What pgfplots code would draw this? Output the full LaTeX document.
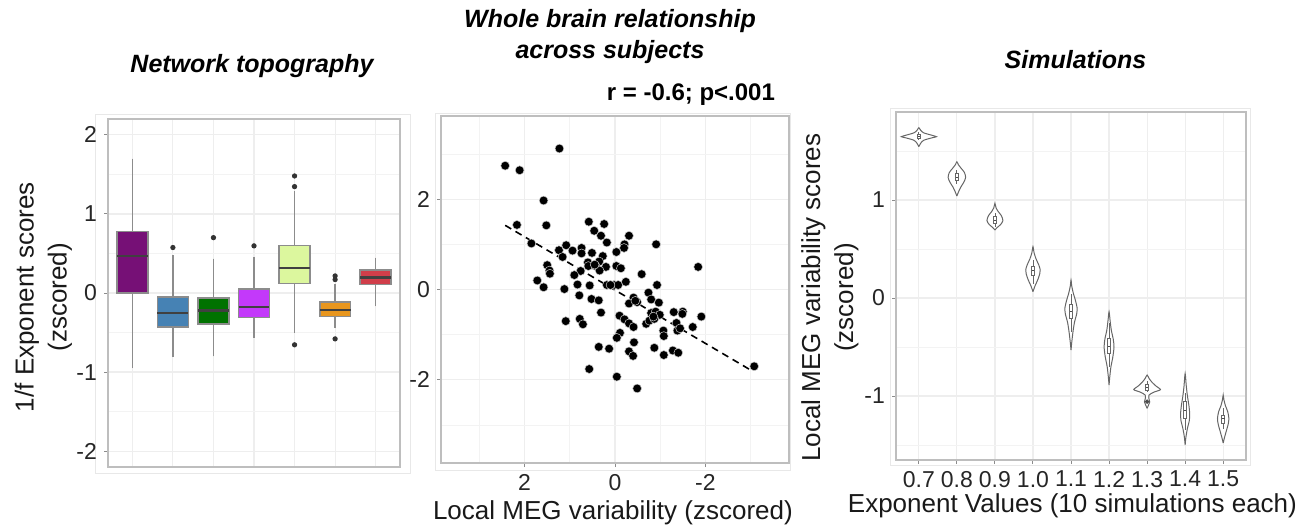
\documentclass[border=0pt]{standalone}
\usepackage{pgfplots}
\pgfplotsset{compat=1.18}
\usepgfplotslibrary{statistics}
\usepackage{fontspec}
\setmainfont{Liberation Sans}
\definecolor{c1}{RGB}{118,16,118}
\definecolor{c2}{RGB}{70,130,180}
\definecolor{c3}{RGB}{0,114,0}
\definecolor{c4}{RGB}{195,57,250}
\definecolor{c5}{RGB}{220,247,158}
\definecolor{c6}{RGB}{232,150,30}
\definecolor{c7}{RGB}{208,62,74}
\definecolor{gridc}{RGB}{238,238,238}
\definecolor{framec}{RGB}{190,190,190}
\definecolor{outerc}{RGB}{232,232,232}
\pgfplotsset{
  gg/.style={
    scale only axis, anchor=north west,
    axis line style={framec, line width=0.6pt},
    tick style={color=black!45, line width=0.5pt},
    major tick length=2pt, minor tick length=0pt, tick align=outside,
    xtick pos=bottom, ytick pos=left,
    grid=both,
    major grid style={gridc, line width=0.6pt},
    minor grid style={gridc!70, line width=0.4pt},
    tick label style={font=\fontsize{11.5}{13}\selectfont, text=black!85},
    label style={font=\fontsize{13}{16.5}\selectfont, text=black!90},
    /pgf/number format/assume math mode=true,
    boxplot/draw direction=y,
    clip=false,
  },
  bx/.style={draw=black!45, line width=0.8pt,
    boxplot/whisker extend=0,
    boxplot/every median/.style={draw=black!75, line width=1.1pt}},
  vio/.style={draw=black!60, fill=white, line width=0.5pt, smooth, tension=0.45},
  ibx/.style={draw=black!60, fill=white, line width=0.4pt,
    boxplot/whisker extend=0,
    boxplot/every median/.style={draw=black!70, line width=0.5pt}},
}
\begin{document}
\begin{tikzpicture}
\path[use as bounding box] (0,0) rectangle (654.5pt,-265.5pt);
% light outer frames (plot backgrounds)
\draw[outerc, line width=0.5pt] (47.5pt,-57pt) rectangle (205pt,-236.5pt);
\draw[outerc, line width=0.5pt] (217.5pt,-56.5pt) rectangle (395pt,-235pt);
\draw[outerc, line width=0.5pt] (445pt,-54pt) rectangle (625pt,-232.5pt);

% ---------------- Panel 1: boxplots ----------------
\begin{axis}[gg, at={(54pt,-59.5pt)}, width=146pt, height=174pt,
  xmin=0.4, xmax=7.6, ymin=-2.2, ymax=2.2,
  xtick={1,2,3,4,5,6,7}, xticklabels={}, xtick style={draw=none},
  ytick={-2,-1,0,1,2}, minor ytick={-1.5,-0.5,0.5,1.5},
  ylabel={1/f Exponent scores\\(zscored)},
  ylabel style={align=center, at={(axis description cs:-0.221,0.488)}, anchor=center},
]
\addplot[bx, fill=c1, boxplot prepared={draw position=1, box extend=0.76,
  lower whisker=-0.95, lower quartile=0.0, median=0.465, upper quartile=0.78, upper whisker=1.70}] coordinates {};
\addplot[bx, fill=c2, boxplot prepared={draw position=2, box extend=0.76,
  lower whisker=-0.81, lower quartile=-0.43, median=-0.25, upper quartile=-0.05, upper whisker=0.48}] coordinates {};
\addplot[bx, fill=c3, boxplot prepared={draw position=3, box extend=0.76,
  lower whisker=-0.80, lower quartile=-0.39, median=-0.22, upper quartile=-0.063, upper whisker=0.435}] coordinates {};
\addplot[bx, fill=c4, boxplot prepared={draw position=4, box extend=0.76,
  lower whisker=-0.567, lower quartile=-0.31, median=-0.18, upper quartile=0.047, upper whisker=0.457}] coordinates {};
\addplot[bx, fill=c5, boxplot prepared={draw position=5, box extend=0.76,
  lower whisker=-0.503, lower quartile=0.118, median=0.313, upper quartile=0.60, upper whisker=1.29}] coordinates {};
\addplot[bx, fill=c6, boxplot prepared={draw position=6, box extend=0.76,
  lower whisker=-0.448, lower quartile=-0.296, median=-0.216, upper quartile=-0.114, upper whisker=0.118}] coordinates {};
\addplot[bx, fill=c7, boxplot prepared={draw position=7, box extend=0.76,
  lower whisker=-0.17, lower quartile=0.106, median=0.195, upper quartile=0.288, upper whisker=0.448}] coordinates {};
\addplot[only marks, mark=*, mark size=1.1pt, black!80] coordinates {
  (2,0.575) (3,0.70) (4,0.596) (5,1.48) (5,1.345) (5,-0.655)
  (6,0.216) (6,0.17) (6,-0.58)};
\end{axis}
\node[font=\bfseries\itshape\fontsize{12.5}{15}\selectfont] at (126pt,-33pt) {Network topography};

% ---------------- Panel 2: scatter ----------------
\begin{axis}[gg, at={(220.5pt,-58pt)}, width=174pt, height=173.5pt,
  xmin=-3.85, xmax=3.85, x dir=reverse, ymin=-3.84, ymax=3.84,
  xtick={-2,0,2}, ytick={-2,0,2},
  minor xtick={-3,-1,1,3}, minor ytick={-3,-1,1,3},
  xlabel={Local MEG variability (zscored)},
  xlabel style={at={(axis description cs:0.494,-0.144)}, anchor=center},
]
\addplot[only marks, mark=*, mark size=2.2pt, mark options={fill=black, draw=black!20, line width=0.25pt}] coordinates {
(2.43,2.74) (2.11,2.64) (1.23,3.12) (1.58,1.97) (2.17,1.43) (1.52,1.42) (1.85,1.02)
(0.58,1.50) (0.24,1.45) (0.46,1.30) (0.31,1.19) (0.18,1.04) (-0.31,1.19) (-0.21,1.00)
(-0.20,0.92) (-0.91,1.00) (1.24,0.87) (1.08,0.98) (0.94,0.86) (0.74,0.92) (0.74,0.80)
(0.51,0.81) (1.16,0.72) (0.27,0.74) (-0.03,0.83) (1.50,0.54) (1.45,0.42) (1.44,0.35)
(0.60,0.60) (0.59,0.52) (0.35,0.62) (0.43,0.52) (0.20,0.50) (0.34,0.42) (-0.03,0.52)
(-0.13,0.47) (0.76,0.41) (0.90,0.32) (-0.59,0.34) (-1.84,0.50) (1.72,0.20) (1.58,0.05)
(1.12,0.01) (0.83,0.11) (0.56,0.09) (0.18,0.10) (0.02,0.10) (-0.07,0.10) (-0.24,0.17)
(-0.93,0.10) (0.79,-0.13) (0.52,-0.21) (0.36,-0.24) (-0.74,-0.07) (-0.41,-0.18)
(-0.31,-0.31) (-0.49,-0.28) (-0.80,-0.22) (-0.97,-0.29) (0.31,-0.51) (-0.80,-0.52)
(-0.90,-0.49) (-0.99,-0.56) (-1.30,-0.50) (-1.50,-0.49) (-1.49,-0.54) (-0.10,-0.58)
(-0.21,-0.66) (-0.31,-0.75) (-0.41,-0.83) (-0.69,-0.76) (-0.76,-0.69) (-0.87,-0.65)
(-1.36,-0.74) (-1.38,-0.91) (-1.72,-0.83) (-1.91,-0.60) (-1.44,-0.86) (1.09,-0.70)
(0.78,-0.65) (0.71,-0.77) (-1.07,-0.91) (-1.08,-1.03) (-0.11,-0.96) (-0.04,-1.07)
(-0.42,-1.17) (0.36,-1.27) (0.13,-1.31) (-0.31,-1.37) (-0.40,-1.47) (-0.87,-1.29)
(-1.08,-1.45) (-1.28,-1.35) (-1.40,-1.40) (0.57,-1.76) (-0.04,-1.93) (-0.49,-2.19)
(-3.08,-1.70) (0.45,0.55) (-0.45,-0.25) (-0.85,-0.60) (0.10,0.10)
};
\addplot[black, line width=0.8pt, dash pattern=on 3.5pt off 2.5pt] coordinates {(2.43,1.42) (-2.98,-1.77)};
\end{axis}
\node[font=\bfseries\itshape\fontsize{12.5}{15}\selectfont, align=center] at (305pt,-18.5pt) {Whole brain relationship\\[0.5pt]across subjects};
\node[font=\bfseries\fontsize{12}{14}\selectfont, anchor=east] at (391pt,-47.5pt) {r = -0.6; p<.001};

% ---------------- Panel 3: violins ----------------
\begin{axis}[gg, at={(448pt,-56pt)}, width=175pt, height=174pt,
  xmin=0.4, xmax=9.6, ymin=-1.653, ymax=1.898,
  xtick={1,...,9}, xticklabels={0.7,0.8,0.9,1.0,1.1,1.2,1.3,1.4,1.5},
  ytick={-1,0,1}, minor ytick={-1.5,-0.5,0.5,1.5},
  ylabel={Local MEG variability scores\\(zscored)},
  ylabel style={align=center, at={(axis description cs:-0.189,0.467)}, anchor=center},
  xlabel={Exponent Values (10 simulations each)},
  xlabel style={at={(axis description cs:0.504,-0.132)}, anchor=center},
]
\addplot[vio] coordinates {(1,1.544) (1.05,1.58) (1.13,1.61) (1.35,1.635) (1.46,1.646) (1.35,1.66) (1.13,1.685) (1.05,1.71) (1,1.738)
  (0.95,1.71) (0.87,1.685) (0.65,1.66) (0.54,1.646) (0.65,1.635) (0.87,1.61) (0.95,1.58) (1,1.544)};
\addplot[vio] coordinates {(2,1.04) (2.04,1.08) (2.10,1.13) (2.18,1.18) (2.23,1.23) (2.20,1.28) (2.12,1.32) (2.04,1.36) (2,1.39)
  (1.96,1.36) (1.88,1.32) (1.80,1.28) (1.77,1.23) (1.82,1.18) (1.90,1.13) (1.96,1.08) (2,1.04)};
\addplot[vio] coordinates {(3,0.694) (3.06,0.72) (3.15,0.75) (3.21,0.79) (3.17,0.84) (3.09,0.88) (3.03,0.92) (3,0.966)
  (2.97,0.92) (2.91,0.88) (2.83,0.84) (2.79,0.79) (2.85,0.75) (2.94,0.72) (3,0.694)};
\addplot[vio] coordinates {(4,0.064) (4.05,0.12) (4.13,0.19) (4.18,0.25) (4.19,0.29) (4.15,0.34) (4.08,0.40) (4.03,0.46) (4,0.524)
  (3.97,0.46) (3.92,0.40) (3.85,0.34) (3.81,0.29) (3.82,0.25) (3.87,0.19) (3.95,0.12) (4,0.064)};
\addplot[vio] coordinates {(5,-0.531) (5.02,-0.45) (5.05,-0.35) (5.09,-0.25) (5.15,-0.16) (5.16,-0.10) (5.12,-0.03) (5.06,0.05) (5.02,0.12) (5,0.184)
  (4.98,0.12) (4.94,0.05) (4.88,-0.03) (4.84,-0.10) (4.85,-0.16) (4.91,-0.25) (4.95,-0.35) (4.98,-0.45) (5,-0.531)};
\addplot[vio] coordinates {(6,-0.888) (6.02,-0.80) (6.05,-0.70) (6.10,-0.60) (6.13,-0.50) (6.11,-0.42) (6.06,-0.33) (6.03,-0.24) (6,-0.14)
  (5.97,-0.24) (5.94,-0.33) (5.89,-0.42) (5.87,-0.50) (5.90,-0.60) (5.95,-0.70) (5.98,-0.80) (6,-0.888)};
\addplot[vio] coordinates {(7,-1.126) (7.04,-1.09) (7.07,-1.06) (7.05,-1.03) (7.05,-0.99) (7.18,-0.96) (7.35,-0.935) (7.24,-0.90) (7.13,-0.86) (7.05,-0.82) (7,-0.786)
  (6.95,-0.82) (6.87,-0.86) (6.76,-0.90) (6.65,-0.935) (6.82,-0.96) (6.95,-0.99) (6.95,-1.03) (6.93,-1.06) (6.96,-1.09) (7,-1.126)};
\addplot[vio] coordinates {(8,-1.50) (8.02,-1.42) (8.06,-1.33) (8.11,-1.25) (8.12,-1.18) (8.10,-1.10) (8.06,-1.00) (8.03,-0.90) (8,-0.77)
  (7.97,-0.90) (7.94,-1.00) (7.90,-1.10) (7.88,-1.18) (7.89,-1.25) (7.94,-1.33) (7.98,-1.42) (8,-1.50)};
\addplot[vio] coordinates {(9,-1.48) (9.03,-1.43) (9.08,-1.36) (9.13,-1.29) (9.15,-1.23) (9.12,-1.16) (9.06,-1.10) (9.02,-1.04) (9,-0.99)
  (8.98,-1.04) (8.94,-1.10) (8.88,-1.16) (8.85,-1.23) (8.87,-1.29) (8.92,-1.36) (8.97,-1.43) (9,-1.48)};
% inner boxplots
\addplot[ibx, boxplot prepared={draw position=1, box extend=0.07, lower whisker=1.61, lower quartile=1.63, median=1.65, upper quartile=1.67, upper whisker=1.69}] coordinates {};
\addplot[ibx, boxplot prepared={draw position=2, box extend=0.07, lower whisker=1.16, lower quartile=1.20, median=1.23, upper quartile=1.27, upper whisker=1.31}] coordinates {};
\addplot[ibx, boxplot prepared={draw position=3, box extend=0.07, lower whisker=0.72, lower quartile=0.76, median=0.79, upper quartile=0.83, upper whisker=0.87}] coordinates {};
\addplot[ibx, boxplot prepared={draw position=4, box extend=0.07, lower whisker=0.14, lower quartile=0.23, median=0.28, upper quartile=0.324, upper whisker=0.39}] coordinates {};
\addplot[ibx, boxplot prepared={draw position=5, box extend=0.07, lower whisker=-0.35, lower quartile=-0.21, median=-0.14, upper quartile=-0.068, upper whisker=0.04}] coordinates {};
\addplot[ibx, boxplot prepared={draw position=6, box extend=0.07, lower whisker=-0.70, lower quartile=-0.565, median=-0.497, upper quartile=-0.41, upper whisker=-0.26}] coordinates {};
\addplot[ibx, boxplot prepared={draw position=7, box extend=0.07, lower whisker=-0.96, lower quartile=-0.939, median=-0.91, upper quartile=-0.881, upper whisker=-0.85}] coordinates {};
\addplot[ibx, boxplot prepared={draw position=8, box extend=0.07, lower whisker=-1.35, lower quartile=-1.228, median=-1.15, upper quartile=-1.058, upper whisker=-0.97}] coordinates {};
\addplot[ibx, boxplot prepared={draw position=9, box extend=0.07, lower whisker=-1.34, lower quartile=-1.279, median=-1.23, upper quartile=-1.194, upper whisker=-1.12}] coordinates {};
\addplot[only marks, mark=*, mark size=0.9pt, black!70] coordinates {(7,-1.058)};
\end{axis}
\node[font=\bfseries\itshape\fontsize{12.5}{15}\selectfont] at (537.75pt,-30pt) {Simulations};
\end{tikzpicture}
\end{document}
